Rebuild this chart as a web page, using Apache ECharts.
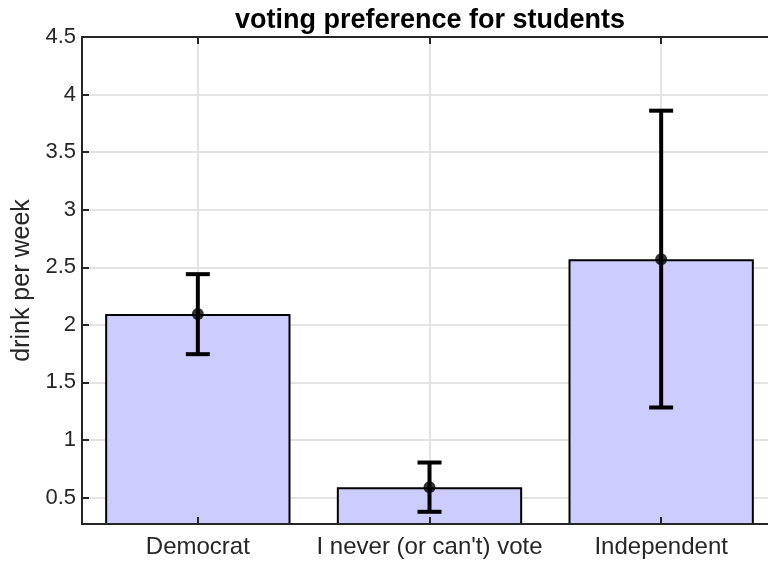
<!DOCTYPE html>
<html>
<head>
<meta charset="utf-8">
<script src="https://cdn.jsdelivr.net/npm/echarts@6/dist/echarts.min.js"></script>
<style>
  html, body { margin: 0; padding: 0; background: #fff; overflow: hidden; }
  /* the plot box runs a little past the right edge of the page */
  #chart { width: 780px; height: 563px; }
</style>
</head>
<body>
<div id="chart"></div>
<script>
// Mean weekly drinks by voting preference, with error bar bounds
const categories = ['Democrat', "I never (or can't) vote", 'Independent'];
const means = [2.095, 0.589, 2.57];
const lowerBounds = [1.745, 0.376, 1.282];
const upperBounds = [2.44, 0.804, 3.86];
const yTicks = [0.5, 1, 1.5, 2, 2.5, 3, 3.5, 4, 4.5];
const yMin = 0.27;
const yMax = 4.5;

const FONT = "'Liberation Sans', Arial, Helvetica, sans-serif";
const AXIS_COLOR = '#262626';
const GRID_COLOR = '#e3e3e3';

const chart = echarts.init(document.getElementById('chart'), null, { renderer: 'canvas' });

const errorData = categories.map((c, i) => [i, lowerBounds[i], upperBounds[i]]);
const pointData = categories.map((c, i) => [i, means[i]]);

chart.setOption({
  animation: false,
  backgroundColor: '#fff',
  title: {
    text: 'voting preference for students',
    left: 430,
    top: 7,
    padding: 0,
    textAlign: 'center',
    textStyle: { fontFamily: FONT, fontSize: 27, fontWeight: 'bold', color: '#000' }
  },
  grid: { left: 82, top: 37, width: 695, height: 487, containLabel: false },
  xAxis: [
    {
      type: 'category',
      position: 'bottom',
      data: categories,
      z: 10,
      axisLine: { show: true, lineStyle: { color: AXIS_COLOR, width: 2 } },
      axisTick: { show: true, inside: true, alignWithLabel: true, length: 7, lineStyle: { color: AXIS_COLOR, width: 2 } },
      axisLabel: { show: true, margin: 11, fontFamily: FONT, fontSize: 24, color: AXIS_COLOR, interval: 0 },
      splitLine: { show: false }
    },
    {
      type: 'category',
      position: 'top',
      data: categories,
      z: 0,
      axisLine: { show: true, lineStyle: { color: AXIS_COLOR, width: 2 } },
      axisTick: { show: true, inside: true, alignWithLabel: true, length: 7, lineStyle: { color: AXIS_COLOR, width: 2 } },
      axisLabel: { show: false },
      splitLine: { show: true, alignWithLabel: true, lineStyle: { color: GRID_COLOR, width: 2 } }
    }
  ],
  yAxis: [
    {
      type: 'value',
      position: 'left',
      min: yMin,
      max: yMax,
      z: 10,
      name: 'drink per week',
      nameLocation: 'middle',
      nameGap: 46,
      nameTextStyle: { fontFamily: FONT, fontSize: 25, color: AXIS_COLOR },
      axisLine: { show: true, lineStyle: { color: AXIS_COLOR, width: 2 } },
      axisTick: { show: true, inside: true, length: 7, customValues: yTicks, lineStyle: { color: AXIS_COLOR, width: 2 } },
      axisLabel: { show: true, margin: 6, fontFamily: FONT, fontSize: 22, color: AXIS_COLOR, customValues: yTicks },
      splitLine: { show: false }
    },
    {
      type: 'value',
      position: 'right',
      min: yMin,
      max: yMax,
      z: 0,
      axisLine: { show: false },
      axisTick: { show: false, customValues: yTicks },
      axisLabel: { show: false, customValues: yTicks },
      splitLine: { show: true, lineStyle: { color: GRID_COLOR, width: 2 } }
    }
  ],
  series: [
    {
      type: 'bar',
      xAxisIndex: 0,
      yAxisIndex: 0,
      data: means,
      barCategoryGap: '20%',
      z: 2,
      itemStyle: { color: '#ccccff', borderColor: '#000', borderWidth: 2 }
    },
    {
      type: 'custom',
      xAxisIndex: 0,
      yAxisIndex: 0,
      data: errorData,
      z: 5,
      renderItem: function (params, api) {
        const x = api.value(0);
        const top = api.coord([x, api.value(2)]);
        const bot = api.coord([x, api.value(1)]);
        const half = 12;
        const style = { stroke: '#000', lineWidth: 4 };
        return {
          type: 'group',
          children: [
            { type: 'line', shape: { x1: top[0], y1: top[1], x2: bot[0], y2: bot[1] }, style: style },
            { type: 'line', shape: { x1: top[0] - half, y1: top[1], x2: top[0] + half, y2: top[1] }, style: style },
            { type: 'line', shape: { x1: bot[0] - half, y1: bot[1], x2: bot[0] + half, y2: bot[1] }, style: style }
          ]
        };
      }
    },
    {
      type: 'scatter',
      xAxisIndex: 0,
      yAxisIndex: 0,
      data: pointData,
      symbol: 'circle',
      symbolSize: 12,
      z: 6,
      itemStyle: { color: '#000' }
    }
  ]
});
</script>
</body>
</html>
